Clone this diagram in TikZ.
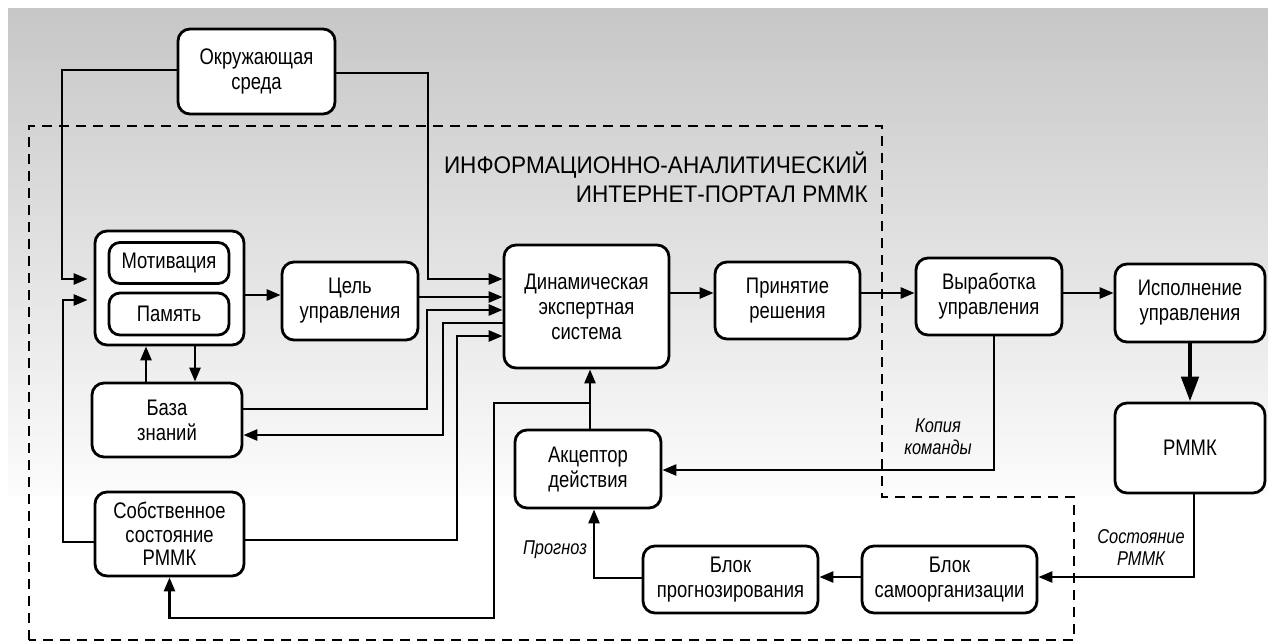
\documentclass[tikz,border=0pt]{standalone}
\usepackage{fontspec}
\setmainfont{Liberation Sans}[FakeStretch=0.82]
\newfontfamily\titlefont{Liberation Sans}[FakeStretch=0.94]
\usetikzlibrary{arrows.meta}
\definecolor{bgtop}{RGB}{199,199,199}
\definecolor{bgbot}{RGB}{252,252,252}
\begin{document}
\begin{tikzpicture}[x=1pt,y=-1pt,
  box/.style={draw, line width=2.8pt, rounded corners=12pt, fill=white, align=center,
    inner sep=0pt, font=\fontsize{22.5}{25}\selectfont},
  conn/.style={line width=2.6pt},
  arr/.style={conn, -{Triangle[length=14pt,width=11pt]}},
  bigarr/.style={line width=4.8pt, -{Triangle[length=25pt,width=17pt]}},
  lbl/.style={font=\fontsize{20}{22}\selectfont\itshape, align=center, inner sep=0pt},
  portal/.style={line width=2.5pt, dash pattern=on 10pt off 7pt}]
\useasboundingbox (0,0) rectangle (1268,642);
\fill[white] (0,0) rectangle (1268,642);
\shade[top color=bgtop, bottom color=bgbot] (8,9) rectangle (1268,495);

% portal boundary
\draw[portal] (29,640) -- (29,126) -- (882,126) -- (882,497) -- (1074,497) -- (1074,640) -- cycle;
\node[anchor=east, align=right, inner sep=0pt, font=\titlefont\fontsize{24}{29}\selectfont] (title) at (868,177.5)
  {ИНФОРМАЦИОННО-АНАЛИТИЧЕСКИЙ\\ИНТЕРНЕТ-ПОРТАЛ РММК};

% nodes
\node[box, minimum width=157pt, minimum height=85pt] (okr) at (256.5,71.5) {Окружающая\\среда};
\node[box, minimum width=149pt, minimum height=114pt] (mem) at (169.5,288) {};
\node[box, minimum width=120pt, minimum height=41pt, rounded corners=11pt] (motiv) at (169,263) {Мотивация};
\node[box, minimum width=120pt, minimum height=42pt, rounded corners=11pt] (pam) at (169,314) {Память};
\node[box, minimum width=136pt, minimum height=78pt] (cel) at (350,301) {Цель\\управления};
\node[box, minimum width=165pt, minimum height=123pt] (des) at (586.5,306.5) {Динамическая\\экспертная\\система};
\node[box, minimum width=145pt, minimum height=77pt] (prin) at (787.5,300.5) {Принятие\\решения};
\node[box, minimum width=146pt, minimum height=77pt] (vyr) at (989,296.5) {Выработка\\управления};
\node[box, minimum width=150pt, minimum height=78pt] (isp) at (1190,303) {Исполнение\\управления};
\node[box, minimum width=150pt, minimum height=90pt] (rmmk) at (1190,448) {РММК};
\node[box, minimum width=150pt, minimum height=74pt] (baza) at (167,420) {База\\знаний};
\node[box, minimum width=149pt, minimum height=84pt, font=\fontsize{22.5}{23.5}\selectfont] (sobst) at (169.5,534) {Собственное\\состояние\\РММК};
\node[box, minimum width=146pt, minimum height=78pt] (akc) at (588,469) {Акцептор\\действия};
\node[box, minimum width=175pt, minimum height=67pt] (bprog) at (730.5,579.5) {Блок\\прогнозирования};
\node[box, minimum width=175pt, minimum height=67pt] (bsamo) at (949.5,579.5) {Блок\\самоорганизации};

% connectors
\draw[arr, shorten >=6pt] (okr.west |- 0,70) -| (62,279) -- (mem.west |- 0,279);
\draw[arr] (okr.east |- 0,73) -| (428,279) -- (des.west |- 0,279);
\draw[arr] (cel.east |- 0,297) -- (des.west |- 0,297);
\draw[arr] (baza.east |- 0,409) -| (427,310) -- (des.west |- 0,310);
\draw[arr] (des.west |- 0,323) -| (443,435) -- (baza.east |- 0,435);
\draw[arr] (sobst.east |- 0,540) -| (457,336) -- (des.west |- 0,336);
\draw[arr] (mem.east |- 0,295) -- (cel.west |- 0,295);
\draw[arr] (baza.north -| 146,0) -- (mem.south -| 146,0);
\draw[arr] (mem.south -| 195,0) -- (baza.north -| 195,0);
\draw[arr, shorten >=6pt] (sobst.west |- 0,542) -| (63,300) -- (mem.west |- 0,300);

\draw[arr] (des.east |- 0,293) -- (prin.west |- 0,293);
\draw[arr] (prin.east |- 0,293) -- (vyr.west |- 0,293);
\draw[arr] (vyr.east |- 0,293) -- (isp.west |- 0,293);
\draw[bigarr] (isp.south) -- (rmmk.north);

\draw[arr] (akc.north -| 590,0) -- (des.south -| 590,0);
\coordinate (br) at (590,403);
\draw[arr] (br) -| (494,618) -| (sobst.south);

\draw[arr] (vyr.south -| 994,0) |- (akc.east |- 0,470);
\node[lbl] (kop) at (938,437) {Копия\\команды};

\draw[arr] (rmmk.south -| 1194,0) |- (bsamo.east |- 0,577);
\node[lbl] (sost) at (1141,548) {Состояние\\РММК};

\draw[arr] (bsamo.west |- 0,577) -- (bprog.east |- 0,577);
\draw[arr] (bprog.west |- 0,578) -| (akc.south -| 594,0);
\node[lbl] (progn) at (555,550) {Прогноз};
\end{tikzpicture}
\end{document}
